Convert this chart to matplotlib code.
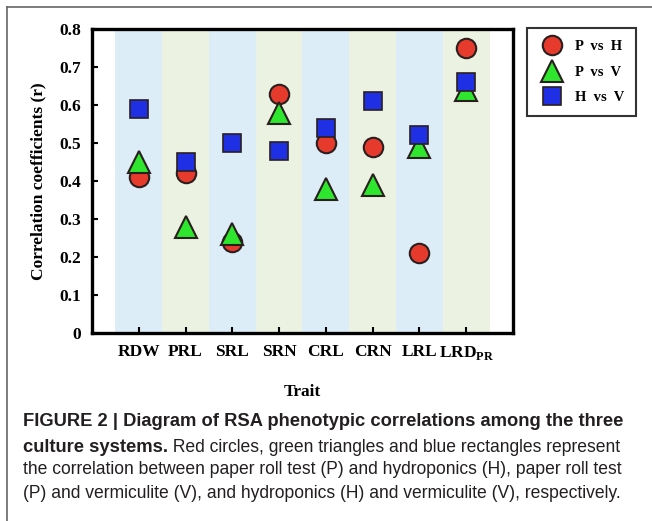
import matplotlib
matplotlib.use("Agg")
import matplotlib.pyplot as plt
from matplotlib.lines import Line2D

traits = ["RDW", "PRL", "SRL", "SRN", "CRL", "CRN", "LRL", r"LRD$_{\mathrm{PR}}$"]
p_vs_h = [0.41, 0.42, 0.24, 0.63, 0.50, 0.49, 0.21, 0.75]
p_vs_v = [0.45, 0.28, 0.26, 0.58, 0.38, 0.39, 0.49, 0.64]
h_vs_v = [0.59, 0.45, 0.50, 0.48, 0.54, 0.61, 0.52, 0.66]
y_ticks = [0, 0.1, 0.2, 0.3, 0.4, 0.5, 0.6, 0.7, 0.8]
y_tick_labels = ["0", "0.1", "0.2", "0.3", "0.4", "0.5", "0.6", "0.7", "0.8"]

plt.rcParams["font.family"] = "Liberation Serif"
plt.rcParams["font.weight"] = "bold"
plt.rcParams["mathtext.fontset"] = "custom"
plt.rcParams["mathtext.rm"] = "Liberation Serif:bold"

fig = plt.figure(figsize=(6.52, 5.21), dpi=100)
ax = fig.add_axes([0.1411, 0.3608, 0.6457, 0.5835])

band_colors = ["#dcedf8", "#ecf2e1"]
for i in range(len(traits)):
    ax.axvspan(i - 0.5, i + 0.5, color=band_colors[i % 2], lw=0, zorder=0)

x = list(range(len(traits)))
edge = "#2a1f1f"
ax.plot(x, p_vs_h, "o", ms=14, mfc="#e63a2c", mec=edge, mew=1.5, zorder=3)
ax.plot(x, p_vs_v, "^", ms=15.5, mfc="#2ee62e", mec=edge, mew=1.5, zorder=4)
ax.plot(x, h_vs_v, "s", ms=13, mfc="#1f2fe3", mec=edge, mew=1.2, zorder=5)

ax.set_xlim(-1, 8)
ax.set_ylim(0, 0.8)
ax.set_xticks(x)
ax.set_xticklabels(traits, fontsize=12.5, fontweight="bold")
ax.set_yticks(y_ticks)
ax.set_yticklabels(y_tick_labels, fontsize=12.5, fontweight="bold")
ax.tick_params(direction="in", length=4, width=1.5, pad=8)
for s in ax.spines.values():
    s.set_linewidth(2.4)
ax.set_xlabel("Trait", fontsize=12.5, fontweight="bold", labelpad=16)
ax.set_ylabel("Correlation coefficients (r)", fontsize=12.5, fontweight="bold", labelpad=9)

handles = [
    Line2D([], [], ls="", marker="o", ms=14, mfc="#e63a2c", mec=edge, mew=1.5),
    Line2D([], [], ls="", marker="^", ms=15.5, mfc="#2ee62e", mec=edge, mew=1.5),
    Line2D([], [], ls="", marker="s", ms=13, mfc="#1f2fe3", mec=edge, mew=1.2),
]
leg = fig.legend(handles, ["P  vs  H", "P  vs  V", "H  vs  V"],
                 loc="upper left", bbox_to_anchor=(0.808, 0.946), borderaxespad=0,
                 frameon=True, fancybox=False, edgecolor="black",
                 prop={"family": "Liberation Serif", "weight": "bold", "size": 10.5},
                 handletextpad=0.7, labelspacing=0.85, borderpad=0.8, handlelength=1.8)
leg.get_frame().set_linewidth(1.5)

# frame round the figure
fig.add_artist(Line2D([7 / 652, 7 / 652], [0, 1 - 7 / 521], color="#666666", lw=1.2))
fig.add_artist(Line2D([7 / 652, 1], [1 - 7 / 521, 1 - 7 / 521], color="#666666", lw=1.2))

# caption
cap = {"family": "Liberation Sans", "color": "#231f20"}
x0 = 23 / 652
fig.text(x0, 1 - 422 / 521, "FIGURE 2 | Diagram of RSA phenotypic correlations among the three",
         fontweight="bold", fontsize=13.2, va="center", **cap)
t = fig.text(x0, 1 - 447 / 521, "culture systems.", fontweight="bold", fontsize=13.2,
             va="center", **cap)
fig.canvas.draw()
bb = t.get_window_extent(fig.canvas.get_renderer())
fig.text(bb.x1 / fig.bbox.width, 1 - 447 / 521,
         " Red circles, green triangles and blue rectangles represent",
         fontweight="normal", fontsize=12.65, va="center", **cap)
fig.text(x0, 1 - 470 / 521,
         "the correlation between paper roll test (P) and hydroponics (H), paper roll test",
         fontweight="normal", fontsize=12.65, va="center", **cap)
fig.text(x0, 1 - 493 / 521,
         "(P) and vermiculite (V), and hydroponics (H) and vermiculite (V), respectively.",
         fontweight="normal", fontsize=12.65, va="center", **cap)

fig.savefig("out.png", dpi=100)
